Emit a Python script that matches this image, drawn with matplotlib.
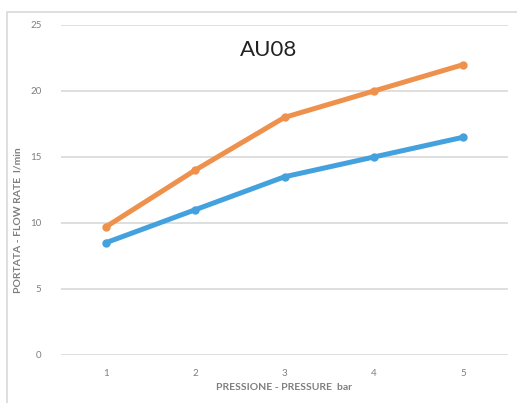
import matplotlib
matplotlib.use("Agg")
import matplotlib.pyplot as plt
from matplotlib.patches import Rectangle

pressure = [1, 2, 3, 4, 5]
flow_orange = [9.7, 14, 18, 20, 22]
flow_blue = [8.5, 11, 13.5, 15, 16.5]
yticks = [0, 5, 10, 15, 20, 25]

plt.rcParams['font.family'] = ['Lato', 'DejaVu Sans']

W, H = 517, 403
fig = plt.figure(figsize=(W/100, H/100), dpi=100)
fig.patches.append(Rectangle((7/W, -0.1), 1.2, (H-12)/H + 0.1, transform=fig.transFigure,
                             fill=False, edgecolor='#d9d9d9', linewidth=1.2))
ax = fig.add_axes([61/W, 1-355/H, (508-61)/W, (355-25)/H])
ax.plot(pressure, flow_orange, color='#EE914C', lw=3.6, marker='o', ms=5, solid_capstyle='round', zorder=3)
ax.plot(pressure, flow_blue, color='#43A1DD', lw=3.6, marker='o', ms=5, solid_capstyle='round', zorder=3)
ax.set_xlim(0.5, 5.5)
ax.set_ylim(0, 25)
ax.set_xticks(pressure)
ax.set_yticks(yticks)
ax.grid(axis='y', color='#d9d9d9', lw=1.2)
ax.set_axisbelow(True)
for s in ax.spines.values():
    s.set_visible(False)
ax.tick_params(length=0, labelsize=7, labelcolor='#7f7f7f', pad=10)
ax.tick_params(axis='y', pad=14)
ax.set_xlabel('PRESSIONE - PRESSURE  bar', fontsize=7.5, fontweight='bold', color='#7f7f7f', labelpad=4)
ax.set_ylabel('PORTATA - FLOW RATE  l/min', fontsize=7.5, fontweight='bold', color='#7f7f7f')
ax.yaxis.set_label_coords(-0.087, 0.41)
fig.text(269/W, 1-50/H, 'AU08', fontsize=16, ha='center', va='center', color='#222222')
fig.savefig('out.png', dpi=100)
